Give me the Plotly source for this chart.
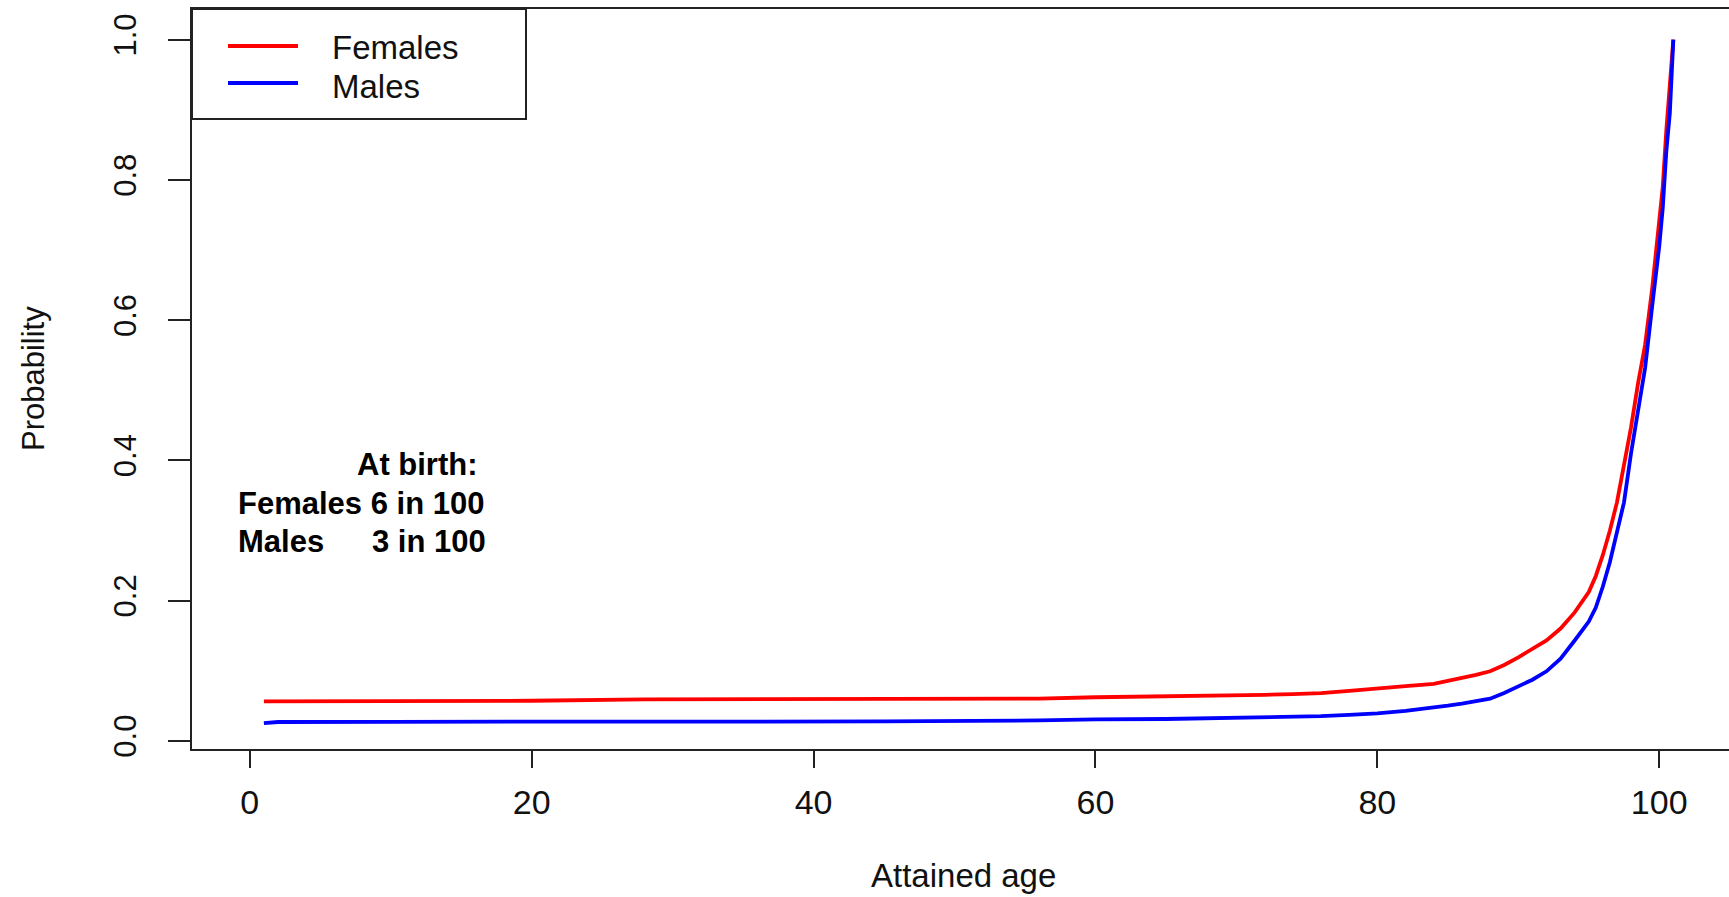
import plotly.graph_objects as go

# Attained age (years) and probability for each sex
ages = [1, 2, 10, 20, 28, 35, 45, 56, 60, 65, 68, 70, 72, 74, 76, 78, 80, 82,
        84, 85, 86, 87, 88, 89, 90, 91, 92, 93, 94, 95, 95.5, 96, 96.5, 97,
        97.5, 98, 98.5, 99, 99.5, 100, 100.25, 100.5, 100.75, 101]
females = [0.056, 0.056, 0.056, 0.057, 0.059, 0.059, 0.059, 0.060, 0.062, 0.063,
           0.064, 0.0645, 0.0655, 0.0665, 0.068, 0.071, 0.075, 0.078, 0.081,
           0.085, 0.090, 0.094, 0.099, 0.108, 0.119, 0.131, 0.143, 0.160, 0.183,
           0.212, 0.235, 0.265, 0.300, 0.340, 0.395, 0.447, 0.510, 0.565, 0.645,
           0.740, 0.790, 0.870, 0.930, 1.0]
males = [0.025, 0.0267, 0.027, 0.027, 0.027, 0.0275, 0.0275, 0.029, 0.0305, 0.031,
         0.032, 0.0323, 0.033, 0.034, 0.035, 0.037, 0.039, 0.0425, 0.047, 0.050,
         0.053, 0.057, 0.060, 0.068, 0.077, 0.087, 0.099, 0.117, 0.143, 0.170,
         0.190, 0.220, 0.255, 0.295, 0.340, 0.410, 0.473, 0.532, 0.620, 0.705,
         0.760, 0.840, 0.895, 1.0]

x_ticks = [0, 20, 40, 60, 80, 100]
y_ticks = [0.0, 0.2, 0.4, 0.6, 0.8, 1.0]
series_names = ["Females", "Males"]
series_colors = ["#FF0000", "#0000FF"]
note_lines = ["At birth:", "Females 6 in 100", "Males", "3 in 100"]

W, H = 1729, 897
L, R, T, B = 192, 0, 9, 148
FONT = "Liberation Sans, Arial, sans-serif"


def px_x(px):
    return (px - L) / (W - L - R)


def px_y(py):
    return (H - B - py) / (H - T - B)


fig = go.Figure()
for name, vals, col in zip(series_names, [females, males], series_colors):
    fig.add_trace(go.Scatter(x=ages, y=vals, mode="lines", name=name,
                             line=dict(color=col, width=3.8), showlegend=False))

shapes = []
annotations = []

# legend box with line samples
shapes.append(dict(type="rect", xref="paper", yref="paper",
                   x0=px_x(192), x1=px_x(526), y0=px_y(119), y1=px_y(9),
                   line=dict(color="#222222", width=2), fillcolor="white"))
legend_rows = [(46, 47), (83, 86)]  # (sample line y, label y) in pixels
for (ly, ty), name, col in zip(legend_rows, series_names, series_colors):
    shapes.append(dict(type="line", xref="paper", yref="paper",
                       x0=px_x(228), x1=px_x(298), y0=px_y(ly), y1=px_y(ly),
                       line=dict(color=col, width=3.8)))
    annotations.append(dict(text=name, xref="paper", yref="paper",
                            x=px_x(330), y=px_y(ty), xanchor="left",
                            yanchor="middle", showarrow=False,
                            font=dict(family=FONT, size=33, color="#111111")))

# note about the probability at birth
bold = dict(family=FONT, size=31, color="black")
annotations.append(dict(text="<b>%s</b>" % note_lines[0], xref="paper", yref="paper",
                        x=px_x(480), y=px_y(465), xanchor="right", yanchor="middle",
                        showarrow=False, font=bold))
annotations.append(dict(text="<b>%s</b>" % note_lines[1], xref="paper", yref="paper",
                        x=px_x(236), y=px_y(504), xanchor="left", yanchor="middle",
                        showarrow=False, font=bold))
annotations.append(dict(text="<b>%s</b>" % note_lines[2], xref="paper", yref="paper",
                        x=px_x(236), y=px_y(541), xanchor="left", yanchor="middle",
                        showarrow=False, font=bold))
annotations.append(dict(text="<b>%s</b>" % note_lines[3], xref="paper", yref="paper",
                        x=px_x(488), y=px_y(541), xanchor="right", yanchor="middle",
                        showarrow=False, font=bold))

# axis titles
annotations.append(dict(text="Attained age", xref="paper", yref="paper",
                        x=px_x(964), y=px_y(876), xanchor="center", yanchor="middle",
                        showarrow=False, font=dict(family=FONT, size=33, color="#111111")))
annotations.append(dict(text="Probability", xref="paper", yref="paper",
                        x=px_x(33), y=px_y(379), xanchor="center", yanchor="middle",
                        textangle=-90, showarrow=False,
                        font=dict(family=FONT, size=31, color="#111111")))

fig.update_layout(
    width=W, height=H,
    margin=dict(l=L, r=R, t=T, b=B, autoexpand=False),
    paper_bgcolor="white", plot_bgcolor="white",
    shapes=shapes, annotations=annotations,
    showlegend=False,
    font=dict(family=FONT, color="#111111"),
)
fig.update_xaxes(range=[-4.1, 104.95], tickvals=x_ticks,
                 ticktext=[str(v) for v in x_ticks],
                 showgrid=False, zeroline=False,
                 showline=True, mirror=True, linecolor="#222222", linewidth=2,
                 ticks="outside", ticklen=17, tickwidth=2, tickcolor="#222222",
                 ticklabelstandoff=5,
                 tickfont=dict(family=FONT, size=34, color="#111111"))
fig.update_yaxes(range=[-0.0118, 1.0437], tickvals=y_ticks,
                 ticktext=["%.1f" % v for v in y_ticks], tickangle=-90,
                 showgrid=False, zeroline=False,
                 showline=True, mirror=False, linecolor="#222222", linewidth=2,
                 ticks="outside", ticklen=22, tickwidth=2, tickcolor="#222222",
                 ticklabelstandoff=20,
                 tickfont=dict(family=FONT, size=31, color="#111111"))

fig.write_html("out.html")
